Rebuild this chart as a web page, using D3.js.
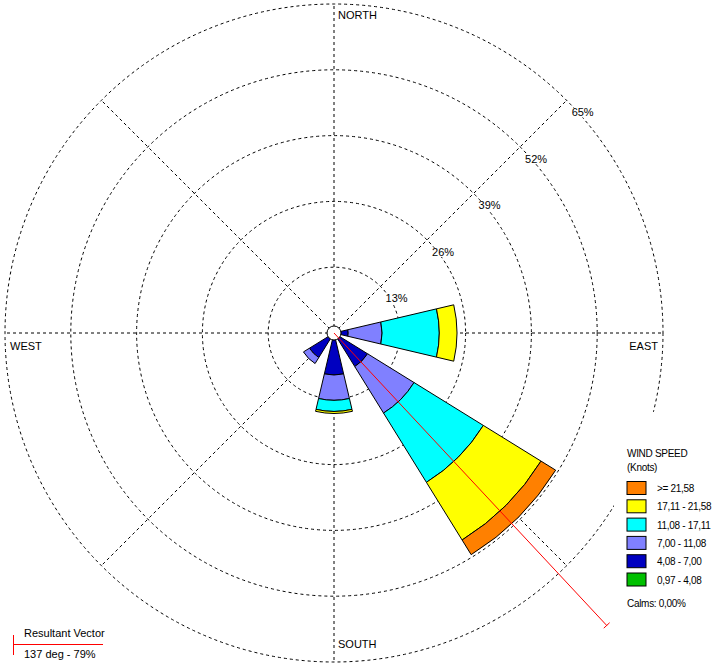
<!DOCTYPE html>
<html lang="en">
<head>
<meta charset="UTF-8">
<title>Wind Rose</title>
<script src="https://cdn.jsdelivr.net/npm/d3@7"></script>
<style>
	body { margin: 0; background: #fff; }
	svg text { font-family: "Liberation Sans", Arial, sans-serif; font-size: 11px; fill: #000; }
	svg .legend text { font-size: 10px; letter-spacing: -0.3px; }
</style>
</head>
<body>
<svg width="718" height="667"></svg>
<script>
	// 16 sectors, clockwise from north
	const directions = ["N", "NNE", "NE", "ENE", "E", "ESE", "SE", "SSE", "S", "SSW", "SW", "WSW", "W", "WNW", "NW", "NNW"];
	const speedBins = ["0,97 - 4,08", "4,08 - 7,00", "7,00 - 11,08", "11,08 - 17,11", "17,11 - 21,58", ">= 21,58"];
	const binColors = ["#00c000", "#0000c0", "#8080ff", "#00ffff", "#ffff00", "#ff8000"];

	// frequency (%) per sector, one array per speed bin
	const bin097 = [0, 0, 0, 0, 0, 0, 0, 0, 0, 0, 0, 0, 0, 0, 0, 0];
	const bin408 = [0, 0, 0, 0, 2.8, 0, 7.8, 0, 8.3, 0, 5.7, 0, 0, 0, 0, 0];
	const bin700 = [0, 0, 0, 0, 6.7, 0, 10.8, 0, 5.0, 0, 1.4, 0, 0, 0, 0, 0];
	const bin1108 = [0, 0, 0, 0, 11.3, 0, 16.1, 0, 2.2, 0, 0, 0, 0, 0, 0, 0];
	const bin1711 = [0, 0, 0, 0, 3.5, 0, 13.4, 0, 0.4, 0, 0, 0, 0, 0, 0, 0];
	const bin2158 = [0, 0, 0, 0, 0, 0, 3.4, 0, 0, 0, 0, 0, 0, 0, 0, 0];
	const binValues = [bin097, bin408, bin700, bin1108, bin1711, bin2158];

	const ringTicks = [13, 26, 39, 52, 65];
	const compassLabels = ["NORTH", "EAST", "SOUTH", "WEST"];
	const calmsText = "Calms: 0,00%";
	const resultantDeg = 137;
	const resultantPct = 79;

	const svg = d3.select("svg");
	const cx = 334, cy = 333, R = 329, calmR = 7;
	const halfWidth = 13.25 * Math.PI / 180;

	const rScale = d3.scaleLinear().domain([0, 65]).range([0, R]);
	const aScale = d3.scaleLinear().domain([0, directions.length]).range([0, 2 * Math.PI]);

	const g = svg.append("g").attr("transform", `translate(${cx},${cy})`);

	// rows for the stack
	const rows = directions.map((d, i) => {
		const row = { dir: d, idx: i };
		speedBins.forEach((b, j) => row[b] = binValues[j][i]);
		return row;
	});
	const series = d3.stack().keys(speedBins)(rows);

	// grid: rings and spokes
	const grid = g.append("g")
		.attr("fill", "none")
		.attr("stroke", "#000")
		.attr("stroke-dasharray", "3,3");
	grid.selectAll("circle")
		.data(ringTicks)
		.enter()
		.append("circle")
		.attr("r", d => rScale(d));
	grid.selectAll("line")
		.data(d3.range(8))
		.enter()
		.append("line")
		.attr("x1", 0).attr("y1", 0)
		.attr("x2", d => R * Math.sin(d * Math.PI / 4))
		.attr("y2", d => -R * Math.cos(d * Math.PI / 4));

	// ring labels along the NE spoke, with white boxes behind
	const ringLab = g.append("g").selectAll("g")
		.data(ringTicks)
		.enter()
		.append("g")
		.attr("transform", d => {
			const p = rScale(d) * Math.SQRT1_2;
			return `translate(${p + 5},${-p + 16})`;
		});
	ringLab.append("rect").attr("fill", "#fff");
	ringLab.append("text").text(d => d + "%");
	ringLab.each(function () {
		const bb = d3.select(this).select("text").node().getBBox();
		d3.select(this).select("rect")
			.attr("x", bb.x).attr("y", bb.y + 2)
			.attr("width", bb.width).attr("height", bb.height - 3);
	});

	// compass labels
	g.append("text").text(compassLabels[0]).attr("x", 4).attr("y", -R + 15);
	g.append("text").text(compassLabels[1]).attr("x", R - 5).attr("y", 17).attr("text-anchor", "end");
	g.append("text").text(compassLabels[2]).attr("x", 4).attr("y", R - 14);
	g.append("text").text(compassLabels[3]).attr("x", -R + 5).attr("y", 17);

	// petals
	const arc = d3.arc()
		.innerRadius(d => Math.max(calmR, rScale(d[0])))
		.outerRadius(d => rScale(d[1]))
		.startAngle(d => aScale(d.data.idx) - halfWidth)
		.endAngle(d => aScale(d.data.idx) + halfWidth);

	g.append("g").selectAll("g")
		.data(series)
		.enter()
		.append("g")
		.attr("fill", (d, i) => binColors[i])
		.selectAll("path")
		.data(d => d.filter(s => s[1] - s[0] > 0))
		.enter()
		.append("path")
		.attr("d", arc)
		.attr("stroke", "#000")
		.attr("stroke-width", 1);

	// calm circle
	g.append("circle").attr("r", calmR).attr("fill", "#fff").attr("stroke", "#000");

	// resultant vector
	const ra = resultantDeg * Math.PI / 180;
	const rl = rScale(resultantPct);
	const ex = rl * Math.sin(ra), ey = -rl * Math.cos(ra);
	g.append("line")
		.attr("x1", 0).attr("y1", 0).attr("x2", ex).attr("y2", ey)
		.attr("stroke", "red");
	g.append("line")
		.attr("x1", ex - 4 * Math.cos(ra)).attr("y1", ey - 4 * Math.sin(ra))
		.attr("x2", ex + 4 * Math.cos(ra)).attr("y2", ey + 4 * Math.sin(ra))
		.attr("stroke", "red");

	// speed legend
	svg.append("rect")
		.attr("x", 614).attr("y", 412).attr("width", 104).attr("height", 255)
		.attr("fill", "#fff");
	const legend = svg.append("g").attr("class", "legend").attr("transform", "translate(627,0)");
	legend.append("text").text("WIND SPEED").attr("y", 457);
	legend.append("text").text("(Knots)").attr("y", 470.5);
	const items = legend.selectAll("g.item")
		.data(speedBins.map((b, i) => ({ name: b, color: binColors[i] })).reverse())
		.enter()
		.append("g")
		.attr("class", "item")
		.attr("transform", (d, i) => `translate(0,${481.5 + i * 18.3})`);
	items.append("rect")
		.attr("width", 19).attr("height", 13)
		.attr("fill", d => d.color)
		.attr("stroke", "#000");
	items.append("text")
		.text(d => d.name)
		.attr("x", 30)
		.attr("y", 10.5);
	legend.append("text").text(calmsText).attr("y", 607);

	// resultant legend
	const rv = svg.append("g");
	rv.append("line").attr("x1", 13.5).attr("x2", 103).attr("y1", 644.5).attr("y2", 644.5).attr("stroke", "red");
	rv.append("line").attr("x1", 13.5).attr("x2", 13.5).attr("y1", 635).attr("y2", 655).attr("stroke", "red");
	rv.append("text").text("Resultant Vector").attr("x", 24).attr("y", 637);
	rv.append("text").text(`${resultantDeg} deg - ${resultantPct}%`).attr("x", 24).attr("y", 657.5);
</script>
</body>
</html>
